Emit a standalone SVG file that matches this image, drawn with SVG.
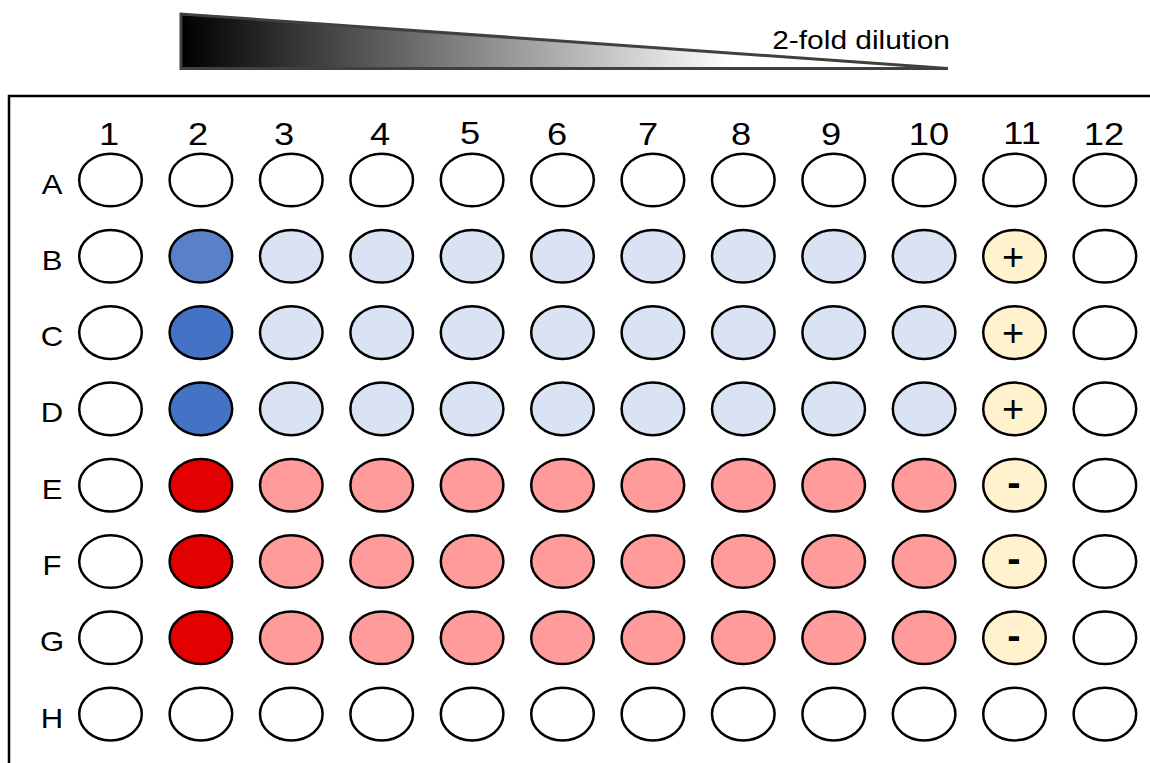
<svg xmlns="http://www.w3.org/2000/svg" width="1150" height="763" viewBox="0 0 1150 763">
<defs>
<linearGradient id="grad" x1="181" y1="0" x2="948" y2="0" gradientUnits="userSpaceOnUse">
<stop offset="0" stop-color="#000"/>
<stop offset="0.72" stop-color="#fff"/>
<stop offset="1" stop-color="#fff"/>
</linearGradient>
<style>
.w{stroke:#000;stroke-width:2.5}
.e{fill:#fff}
.lb{fill:#dae3f3}
.b1{fill:#5a81c8}
.b2{fill:#4472c4}
.r{fill:#e20000}
.p{fill:#ff9b9b}
.y{fill:#fff2cc}
.cl{font-family:"Liberation Sans",Arial,sans-serif;font-size:31px;text-anchor:middle;fill:#000}
.rl{font-family:"Liberation Sans",Arial,sans-serif;font-size:27px;text-anchor:middle;fill:#000}
.pm{font-family:"Liberation Sans",Arial,sans-serif;font-size:38px;text-anchor:middle;fill:#000}
.mn{font-family:"Liberation Sans",Arial,sans-serif;font-size:40px;font-weight:bold;text-anchor:middle;fill:#000}
</style>
</defs>
<rect width="1150" height="763" fill="#fff"/>
<g id="dilution">
<polygon points="181,14 181,68.5 948,68.5" fill="url(#grad)" stroke="#404040" stroke-width="3" stroke-linejoin="miter"/>
<text transform="translate(950,48.5) scale(1.15,1)" font-family="Liberation Sans, Arial, sans-serif" font-size="26" text-anchor="end">2-fold dilution</text>
</g>
<g id="frame"><path d="M9,763 V96 H1150" fill="none" stroke="#000" stroke-width="2.5"/></g>
<g id="col-labels">
<text class="cl" transform="translate(109,145) scale(1.17,1)">1</text>
<text class="cl" transform="translate(198,145) scale(1.17,1)">2</text>
<text class="cl" transform="translate(284,145) scale(1.17,1)">3</text>
<text class="cl" transform="translate(380,145) scale(1.17,1)">4</text>
<text class="cl" transform="translate(470,143.5) scale(1.17,1)">5</text>
<text class="cl" transform="translate(557,145) scale(1.17,1)">6</text>
<text class="cl" transform="translate(648,145) scale(1.17,1)">7</text>
<text class="cl" transform="translate(741,145) scale(1.17,1)">8</text>
<text class="cl" transform="translate(831,145) scale(1.17,1)">9</text>
<text class="cl" transform="translate(929,145) scale(1.17,1)">10</text>
<text class="cl" transform="translate(1022,143.5) scale(1.17,1)">11</text>
<text class="cl" transform="translate(1104,145) scale(1.17,1)">12</text>
</g>
<g id="row-labels">
<text class="rl" transform="translate(52,193.5) scale(1.15,1)">A</text>
<text class="rl" transform="translate(52,269.8) scale(1.15,1)">B</text>
<text class="rl" transform="translate(52,346.1) scale(1.15,1)">C</text>
<text class="rl" transform="translate(52,422.4) scale(1.15,1)">D</text>
<text class="rl" transform="translate(52,498.7) scale(1.15,1)">E</text>
<text class="rl" transform="translate(52,575) scale(1.15,1)">F</text>
<text class="rl" transform="translate(52,651.3) scale(1.15,1)">G</text>
<text class="rl" transform="translate(52,727.6) scale(1.15,1)">H</text>
</g>
<g id="connectors"></g>
<g id="row-A">
<g id="A1"><ellipse class="w e" cx="110.5" cy="180" rx="31.3" ry="26.3"/></g>
<g id="A2"><ellipse class="w e" cx="200.9" cy="180" rx="31.3" ry="26.3"/></g>
<g id="A3"><ellipse class="w e" cx="291.3" cy="180" rx="31.3" ry="26.3"/></g>
<g id="A4"><ellipse class="w e" cx="381.7" cy="180" rx="31.3" ry="26.3"/></g>
<g id="A5"><ellipse class="w e" cx="472.1" cy="180" rx="31.3" ry="26.3"/></g>
<g id="A6"><ellipse class="w e" cx="562.5" cy="180" rx="31.3" ry="26.3"/></g>
<g id="A7"><ellipse class="w e" cx="652.9" cy="180" rx="31.3" ry="26.3"/></g>
<g id="A8"><ellipse class="w e" cx="743.3" cy="180" rx="31.3" ry="26.3"/></g>
<g id="A9"><ellipse class="w e" cx="833.7" cy="180" rx="31.3" ry="26.3"/></g>
<g id="A10"><ellipse class="w e" cx="924.1" cy="180" rx="31.3" ry="26.3"/></g>
<g id="A11"><ellipse class="w e" cx="1014.5" cy="180" rx="31.3" ry="26.3"/></g>
<g id="A12"><ellipse class="w e" cx="1104.9" cy="180" rx="31.3" ry="26.3"/></g>
</g>
<g id="row-B">
<g id="B1"><ellipse class="w e" cx="110.5" cy="256.3" rx="31.3" ry="26.3"/></g>
<g id="B2"><ellipse class="w b1" cx="200.9" cy="256.3" rx="31.3" ry="26.3"/></g>
<g id="B3"><ellipse class="w lb" cx="291.3" cy="256.3" rx="31.3" ry="26.3"/></g>
<g id="B4"><ellipse class="w lb" cx="381.7" cy="256.3" rx="31.3" ry="26.3"/></g>
<g id="B5"><ellipse class="w lb" cx="472.1" cy="256.3" rx="31.3" ry="26.3"/></g>
<g id="B6"><ellipse class="w lb" cx="562.5" cy="256.3" rx="31.3" ry="26.3"/></g>
<g id="B7"><ellipse class="w lb" cx="652.9" cy="256.3" rx="31.3" ry="26.3"/></g>
<g id="B8"><ellipse class="w lb" cx="743.3" cy="256.3" rx="31.3" ry="26.3"/></g>
<g id="B9"><ellipse class="w lb" cx="833.7" cy="256.3" rx="31.3" ry="26.3"/></g>
<g id="B10"><ellipse class="w lb" cx="924.1" cy="256.3" rx="31.3" ry="26.3"/></g>
<g id="B11"><ellipse class="w y" cx="1014.5" cy="256.3" rx="31.3" ry="26.3"/><text class="pm" x="1013" y="269.5">+</text></g>
<g id="B12"><ellipse class="w e" cx="1104.9" cy="256.3" rx="31.3" ry="26.3"/></g>
</g>
<g id="row-C">
<g id="C1"><ellipse class="w e" cx="110.5" cy="332.6" rx="31.3" ry="26.3"/></g>
<g id="C2"><ellipse class="w b2" cx="200.9" cy="332.6" rx="31.3" ry="26.3"/></g>
<g id="C3"><ellipse class="w lb" cx="291.3" cy="332.6" rx="31.3" ry="26.3"/></g>
<g id="C4"><ellipse class="w lb" cx="381.7" cy="332.6" rx="31.3" ry="26.3"/></g>
<g id="C5"><ellipse class="w lb" cx="472.1" cy="332.6" rx="31.3" ry="26.3"/></g>
<g id="C6"><ellipse class="w lb" cx="562.5" cy="332.6" rx="31.3" ry="26.3"/></g>
<g id="C7"><ellipse class="w lb" cx="652.9" cy="332.6" rx="31.3" ry="26.3"/></g>
<g id="C8"><ellipse class="w lb" cx="743.3" cy="332.6" rx="31.3" ry="26.3"/></g>
<g id="C9"><ellipse class="w lb" cx="833.7" cy="332.6" rx="31.3" ry="26.3"/></g>
<g id="C10"><ellipse class="w lb" cx="924.1" cy="332.6" rx="31.3" ry="26.3"/></g>
<g id="C11"><ellipse class="w y" cx="1014.5" cy="332.6" rx="31.3" ry="26.3"/><text class="pm" x="1013" y="345.8">+</text></g>
<g id="C12"><ellipse class="w e" cx="1104.9" cy="332.6" rx="31.3" ry="26.3"/></g>
</g>
<g id="row-D">
<g id="D1"><ellipse class="w e" cx="110.5" cy="408.9" rx="31.3" ry="26.3"/></g>
<g id="D2"><ellipse class="w b2" cx="200.9" cy="408.9" rx="31.3" ry="26.3"/></g>
<g id="D3"><ellipse class="w lb" cx="291.3" cy="408.9" rx="31.3" ry="26.3"/></g>
<g id="D4"><ellipse class="w lb" cx="381.7" cy="408.9" rx="31.3" ry="26.3"/></g>
<g id="D5"><ellipse class="w lb" cx="472.1" cy="408.9" rx="31.3" ry="26.3"/></g>
<g id="D6"><ellipse class="w lb" cx="562.5" cy="408.9" rx="31.3" ry="26.3"/></g>
<g id="D7"><ellipse class="w lb" cx="652.9" cy="408.9" rx="31.3" ry="26.3"/></g>
<g id="D8"><ellipse class="w lb" cx="743.3" cy="408.9" rx="31.3" ry="26.3"/></g>
<g id="D9"><ellipse class="w lb" cx="833.7" cy="408.9" rx="31.3" ry="26.3"/></g>
<g id="D10"><ellipse class="w lb" cx="924.1" cy="408.9" rx="31.3" ry="26.3"/></g>
<g id="D11"><ellipse class="w y" cx="1014.5" cy="408.9" rx="31.3" ry="26.3"/><text class="pm" x="1013" y="422.1">+</text></g>
<g id="D12"><ellipse class="w e" cx="1104.9" cy="408.9" rx="31.3" ry="26.3"/></g>
</g>
<g id="row-E">
<g id="E1"><ellipse class="w e" cx="110.5" cy="485.2" rx="31.3" ry="26.3"/></g>
<g id="E2"><ellipse class="w r" cx="200.9" cy="485.2" rx="31.3" ry="26.3"/></g>
<g id="E3"><ellipse class="w p" cx="291.3" cy="485.2" rx="31.3" ry="26.3"/></g>
<g id="E4"><ellipse class="w p" cx="381.7" cy="485.2" rx="31.3" ry="26.3"/></g>
<g id="E5"><ellipse class="w p" cx="472.1" cy="485.2" rx="31.3" ry="26.3"/></g>
<g id="E6"><ellipse class="w p" cx="562.5" cy="485.2" rx="31.3" ry="26.3"/></g>
<g id="E7"><ellipse class="w p" cx="652.9" cy="485.2" rx="31.3" ry="26.3"/></g>
<g id="E8"><ellipse class="w p" cx="743.3" cy="485.2" rx="31.3" ry="26.3"/></g>
<g id="E9"><ellipse class="w p" cx="833.7" cy="485.2" rx="31.3" ry="26.3"/></g>
<g id="E10"><ellipse class="w p" cx="924.1" cy="485.2" rx="31.3" ry="26.3"/></g>
<g id="E11"><ellipse class="w y" cx="1014.5" cy="485.2" rx="31.3" ry="26.3"/><text class="mn" x="1014" y="496">-</text></g>
<g id="E12"><ellipse class="w e" cx="1104.9" cy="485.2" rx="31.3" ry="26.3"/></g>
</g>
<g id="row-F">
<g id="F1"><ellipse class="w e" cx="110.5" cy="561.5" rx="31.3" ry="26.3"/></g>
<g id="F2"><ellipse class="w r" cx="200.9" cy="561.5" rx="31.3" ry="26.3"/></g>
<g id="F3"><ellipse class="w p" cx="291.3" cy="561.5" rx="31.3" ry="26.3"/></g>
<g id="F4"><ellipse class="w p" cx="381.7" cy="561.5" rx="31.3" ry="26.3"/></g>
<g id="F5"><ellipse class="w p" cx="472.1" cy="561.5" rx="31.3" ry="26.3"/></g>
<g id="F6"><ellipse class="w p" cx="562.5" cy="561.5" rx="31.3" ry="26.3"/></g>
<g id="F7"><ellipse class="w p" cx="652.9" cy="561.5" rx="31.3" ry="26.3"/></g>
<g id="F8"><ellipse class="w p" cx="743.3" cy="561.5" rx="31.3" ry="26.3"/></g>
<g id="F9"><ellipse class="w p" cx="833.7" cy="561.5" rx="31.3" ry="26.3"/></g>
<g id="F10"><ellipse class="w p" cx="924.1" cy="561.5" rx="31.3" ry="26.3"/></g>
<g id="F11"><ellipse class="w y" cx="1014.5" cy="561.5" rx="31.3" ry="26.3"/><text class="mn" x="1014" y="572.3">-</text></g>
<g id="F12"><ellipse class="w e" cx="1104.9" cy="561.5" rx="31.3" ry="26.3"/></g>
</g>
<g id="row-G">
<g id="G1"><ellipse class="w e" cx="110.5" cy="637.8" rx="31.3" ry="26.3"/></g>
<g id="G2"><ellipse class="w r" cx="200.9" cy="637.8" rx="31.3" ry="26.3"/></g>
<g id="G3"><ellipse class="w p" cx="291.3" cy="637.8" rx="31.3" ry="26.3"/></g>
<g id="G4"><ellipse class="w p" cx="381.7" cy="637.8" rx="31.3" ry="26.3"/></g>
<g id="G5"><ellipse class="w p" cx="472.1" cy="637.8" rx="31.3" ry="26.3"/></g>
<g id="G6"><ellipse class="w p" cx="562.5" cy="637.8" rx="31.3" ry="26.3"/></g>
<g id="G7"><ellipse class="w p" cx="652.9" cy="637.8" rx="31.3" ry="26.3"/></g>
<g id="G8"><ellipse class="w p" cx="743.3" cy="637.8" rx="31.3" ry="26.3"/></g>
<g id="G9"><ellipse class="w p" cx="833.7" cy="637.8" rx="31.3" ry="26.3"/></g>
<g id="G10"><ellipse class="w p" cx="924.1" cy="637.8" rx="31.3" ry="26.3"/></g>
<g id="G11"><ellipse class="w y" cx="1014.5" cy="637.8" rx="31.3" ry="26.3"/><text class="mn" x="1014" y="648.6">-</text></g>
<g id="G12"><ellipse class="w e" cx="1104.9" cy="637.8" rx="31.3" ry="26.3"/></g>
</g>
<g id="row-H">
<g id="H1"><ellipse class="w e" cx="110.5" cy="714.1" rx="31.3" ry="26.3"/></g>
<g id="H2"><ellipse class="w e" cx="200.9" cy="714.1" rx="31.3" ry="26.3"/></g>
<g id="H3"><ellipse class="w e" cx="291.3" cy="714.1" rx="31.3" ry="26.3"/></g>
<g id="H4"><ellipse class="w e" cx="381.7" cy="714.1" rx="31.3" ry="26.3"/></g>
<g id="H5"><ellipse class="w e" cx="472.1" cy="714.1" rx="31.3" ry="26.3"/></g>
<g id="H6"><ellipse class="w e" cx="562.5" cy="714.1" rx="31.3" ry="26.3"/></g>
<g id="H7"><ellipse class="w e" cx="652.9" cy="714.1" rx="31.3" ry="26.3"/></g>
<g id="H8"><ellipse class="w e" cx="743.3" cy="714.1" rx="31.3" ry="26.3"/></g>
<g id="H9"><ellipse class="w e" cx="833.7" cy="714.1" rx="31.3" ry="26.3"/></g>
<g id="H10"><ellipse class="w e" cx="924.1" cy="714.1" rx="31.3" ry="26.3"/></g>
<g id="H11"><ellipse class="w e" cx="1014.5" cy="714.1" rx="31.3" ry="26.3"/></g>
<g id="H12"><ellipse class="w e" cx="1104.9" cy="714.1" rx="31.3" ry="26.3"/></g>
</g>
</svg>
